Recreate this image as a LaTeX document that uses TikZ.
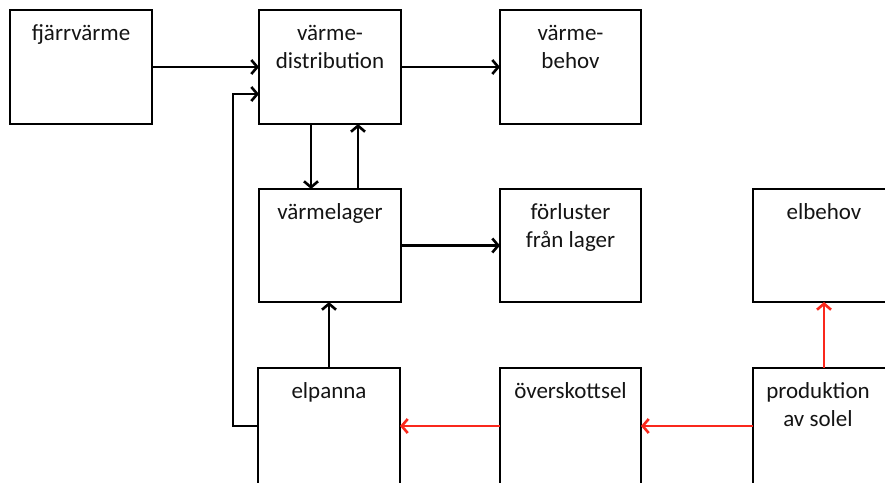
\documentclass[tikz,border=0pt]{standalone}
\usepackage{fontspec}
\setmainfont{Carlito}
\usetikzlibrary{arrows.meta}
\definecolor{solred}{RGB}{250,40,28}
\definecolor{txtgray}{RGB}{20,20,20}
\begin{document}
\begin{tikzpicture}[x=1pt,y=-1pt,
  box/.style={draw, line width=2.6pt, inner sep=0pt, outer sep=0pt, anchor=north west, minimum width=142pt},
  lbl/.style={anchor=base, font=\fontsize{23}{28}\selectfont, align=center, text=txtgray, inner sep=0pt},
  arr/.style={line width=2.6pt, -{Straight Barb[length=6pt,width=14pt,line width=2.6pt]}},
  redarr/.style={arr, draw=solred}]
\useasboundingbox (0,0) rectangle (885,482);
\clip (0,0) rectangle (885,482);
% boxes
\node[box, minimum height=114pt] (fj) at (10,10) {};
\node[box, minimum height=114pt] (vd) at (259,10) {};
\node[box, minimum height=114pt, minimum width=141pt] (vb) at (500,10) {};
\node[box, minimum height=113pt] (vl) at (259,189) {};
\node[box, minimum height=113pt, minimum width=141pt] (fl) at (500,189) {};
\node[box, minimum height=113pt] (eb) at (753,189) {};
\node[box, minimum height=116pt] (ep) at (258,368) {};
\node[box, minimum height=116pt, minimum width=141pt] (os) at (500,368) {};
\node[box, minimum height=116pt] (ps) at (753,368) {};
% labels
\node[lbl] (tfj) at (81,40) {fjärrvärme};
\node[lbl] (tvd) at (330,68) {värme-\\distribution};
\node[lbl] (tvb) at (570.5,68) {värme-\\behov};
\node[lbl] (tvl) at (330,219) {värmelager};
\node[lbl] (tfl) at (570.5,247) {förluster\\från lager};
\node[lbl] (teb) at (824,219) {elbehov};
\node[lbl] (tep) at (329,398) {elpanna};
\node[lbl] (tos) at (570.5,398) {överskottsel};
\node[lbl] (tps) at (818,426) {produktion\\av solel};
% connectors
\draw[arr] (fj.east) -- (vd.west);
\draw[arr] (vd.east) -- (vb.west);
\draw[arr] ([xshift=-19pt]vd.south) -- ([xshift=-19pt]vd.south |- vl.north);
\draw[arr] ([xshift=28pt]vl.north) -- ([xshift=28pt]vl.north |- vd.south);
\draw[arr] (vl.east) -- (fl.west);
\draw[arr] (ep.north) -- (ep.north |- vl.south);
\draw[arr] (ep.west) -- ++(-25,0) |- ([yshift=-84pt]vd.north west);
\draw[redarr] (os.west) -- (ep.east);
\draw[redarr] (ps.west) -- (os.east);
\draw[redarr] (eb.south |- ps.north) -- (eb.south);
\end{tikzpicture}
\end{document}
